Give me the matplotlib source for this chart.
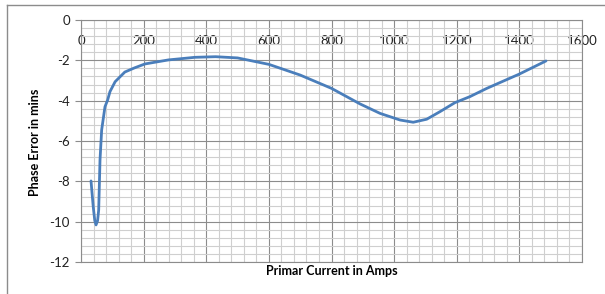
"""Phase error vs primary current (Excel-style line chart)."""

import matplotlib
matplotlib.use('Agg')
import matplotlib.pyplot as plt
from matplotlib.lines import Line2D
from matplotlib.ticker import MultipleLocator

# values
current_amps = [32, 39, 44, 48, 53, 56.5, 60.7, 66, 76.6, 85, 92.6, 109, 140,
                170, 204, 279, 364, 430, 500, 600, 700, 800, 891, 955, 1019,
                1061, 1104, 1147, 1194, 1242, 1296, 1400, 1485]
phase_error = [-7.98, -9.25, -9.95, -10.16, -9.95, -9.42, -6.94, -5.45, -4.3,
               -3.97, -3.55, -3.06, -2.58, -2.38, -2.18, -1.98, -1.85, -1.82,
               -1.88, -2.2, -2.73, -3.39, -4.16, -4.63, -4.96, -5.07, -4.92,
               -4.54, -4.1, -3.8, -3.39, -2.68, -2.03]
x_ticks = [0, 200, 400, 600, 800, 1000, 1200, 1400, 1600]
y_ticks = [0, -2, -4, -6, -8, -10, -12]

W, H = 605, 294
plt.rcParams['font.family'] = ['Lato', 'DejaVu Sans']

fig = plt.figure(figsize=(W / 100, H / 100), dpi=100)
ax = fig.add_axes([81 / W, 1 - 262 / H, (582 - 81) / W, (262 - 20) / H])

ax.plot(current_amps, phase_error, color='#4a7ebb', linewidth=2.0,
        solid_joinstyle='round', solid_capstyle='round', zorder=3)

ax.set_xlim(0, 1600)
ax.set_ylim(-12, 0)
ax.set_xticks(x_ticks)
ax.set_yticks(y_ticks)
ax.xaxis.set_minor_locator(MultipleLocator(40))
ax.yaxis.set_minor_locator(MultipleLocator(0.4))

ax.grid(which='major', color='#8c8c8c', linewidth=0.8)
ax.grid(which='minor', color='#cfcfcf', linewidth=0.8)
ax.set_axisbelow(True)

for side in ax.spines.values():
    side.set_color('#8c8c8c')
    side.set_linewidth(0.8)

# x axis crosses at y=0 (top), labels sit just below it
ax.tick_params(axis='x', which='both', top=False, bottom=False,
               labeltop=True, labelbottom=False, pad=-23, labelsize=9.5,
               colors='#222222')
ax.tick_params(axis='y', which='major', direction='out', length=4,
               color='#8c8c8c', labelsize=9.5, labelcolor='#222222', pad=4)
ax.tick_params(axis='y', which='minor', length=0)
ax.set_yticklabels([str(v) for v in y_ticks])

fig.text(35 / W, 1 - 142 / H, 'Phase Error in mins', rotation=90,
         ha='center', va='center', fontsize=9, fontweight='bold')
fig.text(332 / W, 1 - 271 / H, 'Primar Current in Amps',
         ha='center', va='center', fontsize=9, fontweight='bold')

# chart area border
fig.add_artist(Line2D([7 / W, 1], [1 - 5 / H, 1 - 5 / H], color='#8c8c8c',
                      linewidth=1.0, transform=fig.transFigure))
fig.add_artist(Line2D([7 / W, 7 / W], [0, 1 - 5 / H], color='#8c8c8c',
                      linewidth=1.0, transform=fig.transFigure))

fig.savefig('out.png', dpi=100)
plt.close(fig)
